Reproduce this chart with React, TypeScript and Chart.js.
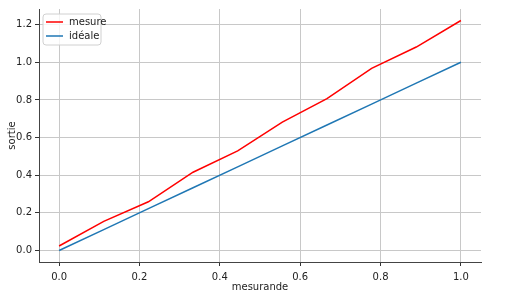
import React, { useEffect, useRef } from "react";
import { Chart, registerables } from "chart.js";

Chart.register(...registerables);

const xValues = [0, 1 / 9, 2 / 9, 3 / 9, 4 / 9, 5 / 9, 6 / 9, 7 / 9, 8 / 9, 1];
const mesure = [0.024, 0.155, 0.259, 0.416, 0.529, 0.682, 0.807, 0.968, 1.081, 1.222];
const ideale = [0, 1 / 9, 2 / 9, 3 / 9, 4 / 9, 5 / 9, 6 / 9, 7 / 9, 8 / 9, 1];
const xTicks = [0, 0.2, 0.4, 0.6, 0.8, 1.0];
const yTicks = [0, 0.2, 0.4, 0.6, 0.8, 1.0, 1.2];
const seriesLabels = ["mesure", "idéale"];
const seriesColors = ["#ff0000", "#1f77b4"];

const FONT = "'DejaVu Sans', sans-serif";

const legendPlugin = {
  id: "insideLegend",
  afterDraw(chart: any) {
    const ctx = chart.ctx;
    const area = chart.chartArea;
    const x0 = area.left + 4;
    const y0 = area.top + 5;
    const w = 58;
    const h = 31;
    ctx.save();
    ctx.beginPath();
    const r = 3;
    ctx.moveTo(x0 + r, y0);
    ctx.lineTo(x0 + w - r, y0);
    ctx.quadraticCurveTo(x0 + w, y0, x0 + w, y0 + r);
    ctx.lineTo(x0 + w, y0 + h - r);
    ctx.quadraticCurveTo(x0 + w, y0 + h, x0 + w - r, y0 + h);
    ctx.lineTo(x0 + r, y0 + h);
    ctx.quadraticCurveTo(x0, y0 + h, x0, y0 + h - r);
    ctx.lineTo(x0, y0 + r);
    ctx.quadraticCurveTo(x0, y0, x0 + r, y0);
    ctx.closePath();
    ctx.fillStyle = "rgba(255,255,255,0.8)";
    ctx.fill();
    ctx.strokeStyle = "#d0d0d0";
    ctx.lineWidth = 1;
    ctx.stroke();
    ctx.font = `10px ${FONT}`;
    ctx.textBaseline = "middle";
    ctx.textAlign = "left";
    seriesLabels.forEach((lab, i) => {
      const yy = y0 + 8 + i * 14;
      ctx.strokeStyle = seriesColors[i];
      ctx.lineWidth = 1.5;
      ctx.beginPath();
      ctx.moveTo(x0 + 3, yy);
      ctx.lineTo(x0 + 20, yy);
      ctx.stroke();
      ctx.fillStyle = "#222";
      ctx.fillText(lab, x0 + 26, yy);
    });
    ctx.restore();
  },
};

export default function App() {
  const ref = useRef<HTMLCanvasElement>(null);
  useEffect(() => {
    document.body.style.margin = "0";
    document.body.style.overflow = "hidden";
    const canvas = ref.current!;
    const chart = new Chart(canvas, {
      type: "line",
      data: {
        datasets: [
          {
            label: seriesLabels[0],
            data: xValues.map((x, i) => ({ x, y: mesure[i] })),
            borderColor: seriesColors[0],
            borderWidth: 1.5,
            pointRadius: 0,
            tension: 0,
            fill: false,
          },
          {
            label: seriesLabels[1],
            data: xValues.map((x, i) => ({ x, y: ideale[i] })),
            borderColor: seriesColors[1],
            borderWidth: 1.5,
            pointRadius: 0,
            tension: 0,
            fill: false,
          },
        ],
      },
      options: {
        responsive: false,
        animation: false,
        devicePixelRatio: 1,
        layout: { padding: { top: 5, right: 36, left: 0, bottom: 0 } },
        plugins: { legend: { display: false }, tooltip: { enabled: false } },
        scales: {
          x: {
            type: "linear",
            min: -0.05,
            max: 1.05,
            afterBuildTicks: (s: any) => {
              s.ticks = xTicks.map((v) => ({ value: v }));
            },
            afterFit: (s: any) => {
              s.height = 31;
            },
            ticks: {
              callback: (v: any) => Number(v).toFixed(1),
              font: { family: FONT, size: 10 },
              color: "#222",
              padding: 5,
              maxRotation: 0,
            },
            grid: {
              color: "#c8c8c8",
              lineWidth: 1,
              tickLength: 4,
              tickColor: "#333",
            },
            border: { display: true, color: "#444", width: 1 },
            title: {
              display: true,
              text: "mesurande",
              font: { family: FONT, size: 10 },
              color: "#222",
              padding: { top: 0, bottom: 0 },
            },
          },
          y: {
            type: "linear",
            min: -0.061,
            max: 1.283,
            afterBuildTicks: (s: any) => {
              s.ticks = yTicks.map((v) => ({ value: v }));
            },
            afterFit: (s: any) => {
              s.width = 39;
            },
            ticks: {
              callback: (v: any) => Number(v).toFixed(1),
              font: { family: FONT, size: 10 },
              color: "#222",
              padding: 3,
            },
            grid: {
              color: "#c8c8c8",
              lineWidth: 1,
              tickLength: 4,
              tickColor: "#333",
            },
            border: { display: true, color: "#444", width: 1 },
            title: {
              display: true,
              text: "sortie",
              font: { family: FONT, size: 10 },
              color: "#222",
              padding: { top: 6, bottom: 0 },
            },
          },
        },
      },
      plugins: [legendPlugin],
    } as any);
    return () => chart.destroy();
  }, []);
  return (
    <div style={{ width: 517, height: 290, overflow: "hidden" }}>
      <canvas ref={ref} width={517} height={293} style={{ display: "block" }} />
    </div>
  );
}
